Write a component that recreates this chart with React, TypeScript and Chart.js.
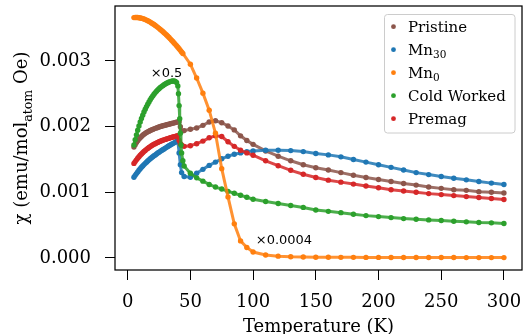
import React, { useEffect, useRef } from 'react';
import { Chart, registerables } from 'chart.js';

Chart.register(...registerables);

// ---------- data: temperature (K) and chi in units of 1e-6 emu/mol_atom Oe, as plotted ----------
const UNIT = 1e-6;

const pristineT = [5, 6, 7, 8, 9, 10, 11, 12, 13, 14, 15, 16, 17, 18, 19, 20, 21, 22, 23, 24, 25, 26, 27, 28, 29, 30, 31, 32, 33, 34, 35, 36, 37, 38, 39, 40, 41, 42, 43, 45, 50, 55, 60, 65, 70, 75, 80, 85, 90, 95, 100, 110, 120, 130, 140, 150, 160, 170, 180, 190, 200, 210, 220, 230, 240, 250, 260, 270, 280, 290, 300];
const pristineChi = [1690, 1725, 1757, 1785, 1810, 1832, 1851, 1868, 1884, 1898, 1910, 1921, 1931, 1941, 1950, 1958, 1966, 1974, 1981, 1988, 1995, 2001, 2007, 2013, 2018, 2023, 2028, 2033, 2038, 2043, 2048, 2053, 2058, 2063, 2068, 2073, 2078, 2000, 1930, 1940, 1960, 1980, 2020, 2070, 2090, 2060, 2010, 1950, 1860, 1790, 1730, 1630, 1550, 1480, 1420, 1375, 1340, 1300, 1260, 1225, 1195, 1165, 1135, 1110, 1080, 1060, 1040, 1030, 1010, 1000, 990];

const mn30T = [5, 6, 7, 8, 9, 10, 11, 12, 13, 14, 15, 16, 17, 18, 19, 20, 21, 22, 23, 24, 25, 26, 27, 28, 29, 30, 31, 32, 33, 34, 35, 36, 37, 38, 39, 40, 41, 42, 43, 45, 50, 55, 60, 65, 70, 75, 80, 85, 90, 95, 100, 110, 120, 130, 140, 150, 160, 170, 180, 190, 200, 210, 220, 230, 240, 250, 260, 270, 280, 290, 300];
const mn30Chi = [1230, 1258, 1285, 1311, 1336, 1359, 1381, 1402, 1422, 1441, 1459, 1477, 1494, 1510, 1526, 1541, 1556, 1570, 1584, 1598, 1611, 1624, 1637, 1649, 1661, 1673, 1685, 1697, 1709, 1720, 1731, 1742, 1753, 1764, 1775, 1785, 1600, 1420, 1300, 1240, 1230, 1290, 1350, 1410, 1460, 1510, 1550, 1580, 1600, 1620, 1630, 1640, 1640, 1635, 1620, 1590, 1570, 1540, 1500, 1460, 1420, 1380, 1340, 1300, 1270, 1240, 1215, 1190, 1165, 1140, 1120];

// Mn0 is drawn scaled by x0.0004
const mn0T = [5, 6, 7, 8, 9, 10, 11, 12, 13, 14, 15, 16, 17, 18, 19, 20, 21, 22, 23, 24, 25, 26, 27, 28, 29, 30, 31, 32, 33, 34, 35, 36, 37, 38, 39, 40, 41, 42, 43, 44, 50, 55, 60, 65, 70, 75, 80, 85, 90, 95, 100, 110, 120, 130, 140, 150, 160, 170, 180, 190, 200, 210, 220, 230, 240, 250, 260, 270, 280, 290, 300];
const mn0Chi = [3660, 3662, 3662, 3661, 3658, 3655, 3650, 3645, 3638, 3630, 3622, 3613, 3603, 3592, 3580, 3568, 3555, 3541, 3527, 3512, 3497, 3481, 3465, 3448, 3431, 3413, 3395, 3376, 3357, 3337, 3317, 3296, 3275, 3253, 3231, 3208, 3185, 3162, 3138, 3114, 2950, 2740, 2510, 2250, 1900, 1360, 930, 520, 260, 160, 90, 45, 28, 18, 14, 12, 11, 10, 10, 9, 9, 8, 8, 8, 7, 7, 7, 6, 6, 6, 6];

// Cold Worked is drawn scaled by x0.5
const coldT = [5, 6, 7, 8, 9, 10, 11, 12, 13, 14, 15, 16, 17, 18, 19, 20, 21, 22, 23, 24, 25, 26, 27, 28, 29, 30, 31, 32, 33, 34, 35, 36, 37, 38, 39, 40, 40.5, 41, 41.5, 42, 42.5, 43, 44, 45, 50, 55, 60, 65, 70, 75, 80, 85, 90, 95, 100, 110, 120, 130, 140, 150, 160, 170, 180, 190, 200, 210, 220, 230, 240, 250, 260, 270, 280, 290, 300];
const coldChi = [1720, 1800, 1875, 1945, 2010, 2070, 2125, 2175, 2222, 2265, 2305, 2342, 2377, 2410, 2440, 2468, 2494, 2518, 2540, 2560, 2578, 2595, 2610, 2624, 2637, 2649, 2660, 2670, 2679, 2686, 2691, 2694, 2694, 2688, 2672, 2620, 2500, 2320, 2120, 1900, 1720, 1600, 1480, 1400, 1290, 1220, 1170, 1120, 1080, 1050, 1015, 985, 955, 925, 895, 860, 830, 800, 770, 730, 710, 690, 665, 645, 630, 615, 600, 590, 580, 570, 560, 550, 540, 535, 525];

const premagT = [5, 6, 7, 8, 9, 10, 11, 12, 13, 14, 15, 16, 17, 18, 19, 20, 21, 22, 23, 24, 25, 26, 27, 28, 29, 30, 31, 32, 33, 34, 35, 36, 37, 38, 39, 40, 41, 42, 43, 45, 50, 55, 60, 65, 70, 75, 80, 85, 90, 95, 100, 110, 120, 130, 140, 150, 160, 170, 180, 190, 200, 210, 220, 230, 240, 250, 260, 270, 280, 290, 300];
const premagChi = [1440, 1468, 1494, 1519, 1542, 1564, 1584, 1603, 1621, 1638, 1654, 1669, 1683, 1696, 1708, 1720, 1731, 1741, 1751, 1760, 1769, 1777, 1785, 1792, 1799, 1806, 1812, 1818, 1824, 1830, 1836, 1842, 1847, 1852, 1857, 1862, 1790, 1740, 1720, 1700, 1710, 1740, 1780, 1830, 1860, 1850, 1770, 1700, 1640, 1600, 1565, 1480, 1405, 1335, 1275, 1225, 1185, 1155, 1125, 1095, 1070, 1040, 1020, 1000, 980, 965, 950, 935, 920, 905, 890];

const xTicks = [0, 50, 100, 150, 200, 250, 300];
const yTicks = [0, 0.001, 0.002, 0.003];

const legendNames = ['Pristine', 'Mn', 'Mn', 'Cold Worked', 'Premag'];
const legendSubs = ['', '30', '0', '', ''];
const colors = ['#8c564b', '#1f77b4', '#ff7f0e', '#2ca02c', '#d62728'];
const lineColors = ['rgba(140,86,75,0.85)', 'rgba(31,119,180,0.85)', 'rgba(255,127,14,0.85)', 'rgba(44,160,44,0.85)', 'rgba(214,39,40,0.85)'];

const noteCold = { text: '×0.5', x: 31, y: 0.00281 };
const noteMn0 = { text: '×0.0004', x: 124.6, y: 0.00026 };

const SERIF = '"DejaVu Serif", serif';

const pts = (T: number[], v: number[]) => T.map((t, i) => ({ x: t, y: v[i] * UNIT }));

const overlay = {
  id: 'overlay',
  afterDatasetsDraw(chart: any) {
    const { ctx, chartArea: a, scales } = chart;
    const xs = scales.x;
    const ys = scales.y;
    ctx.save();
    // frame
    ctx.strokeStyle = '#000';
    ctx.lineWidth = 1.25;
    ctx.strokeRect(a.left, a.top, a.right - a.left, a.bottom - a.top);

    // annotations
    ctx.fillStyle = '#000';
    ctx.font = '13px "DejaVu Sans", sans-serif';
    ctx.textAlign = 'center';
    ctx.textBaseline = 'middle';
    for (const n of [noteCold, noteMn0]) {
      ctx.fillText(n.text, xs.getPixelForValue(n.x), ys.getPixelForValue(n.y));
    }

    // legend
    const lx = 384.5, ly = 14.5, lw = 130.5, lh = 118.5;
    ctx.beginPath();
    ctx.roundRect(lx, ly, lw, lh, 3);
    ctx.fillStyle = 'rgba(255,255,255,0.8)';
    ctx.fill();
    ctx.strokeStyle = '#cccccc';
    ctx.lineWidth = 1;
    ctx.stroke();
    ctx.textAlign = 'left';
    ctx.textBaseline = 'alphabetic';
    for (let i = 0; i < legendNames.length; i++) {
      const cy = 26.7 + i * 23;
      ctx.fillStyle = colors[i];
      ctx.beginPath();
      ctx.arc(393.5, cy, 2.4, 0, Math.PI * 2);
      ctx.fill();
      ctx.fillStyle = '#000';
      ctx.font = '15px ' + SERIF;
      const base = cy + 5.2;
      ctx.fillText(legendNames[i], 408, base);
      if (legendSubs[i]) {
        const w = ctx.measureText(legendNames[i]).width;
        ctx.font = '10.5px ' + SERIF;
        ctx.fillText(legendSubs[i], 408 + w, base + 3.5);
      }
    }

    // y-axis title with subscript
    const parts = [
      { t: 'χ (emu/mol', f: '18px ' + SERIF, dy: 0 },
      { t: 'atom', f: '12.6px ' + SERIF, dy: 4.5 },
      { t: ' Oe)', f: '18px ' + SERIF, dy: 0 },
    ];
    let total = 0;
    const widths = parts.map((p) => {
      ctx.font = p.f;
      const w = ctx.measureText(p.t).width;
      total += w;
      return w;
    });
    ctx.translate(27, (a.top + a.bottom) / 2);
    ctx.rotate(-Math.PI / 2);
    let px = -total / 2;
    ctx.fillStyle = '#000';
    parts.forEach((p, i) => {
      ctx.font = p.f;
      ctx.fillText(p.t, px, p.dy);
      px += widths[i];
    });
    ctx.restore();

    // x-axis title
    ctx.save();
    ctx.fillStyle = '#000';
    ctx.font = '18px ' + SERIF;
    ctx.textAlign = 'center';
    ctx.textBaseline = 'alphabetic';
    ctx.fillText('Temperature (K)', (a.left + a.right) / 2, 331.5);
    ctx.restore();
  },
};

export default function App() {
  const ref = useRef<HTMLCanvasElement>(null);
  useEffect(() => {
    const canvas = ref.current;
    if (!canvas) return;
    const series = [
      { label: 'Pristine', d: pts(pristineT, pristineChi), order: 5 },
      { label: 'Mn30', d: pts(mn30T, mn30Chi), order: 4 },
      { label: 'Mn0', d: pts(mn0T, mn0Chi), order: 0 },
      { label: 'Cold Worked', d: pts(coldT, coldChi), order: 1 },
      { label: 'Premag', d: pts(premagT, premagChi), order: 3 },
    ];
    const chart = new Chart(canvas, {
      type: 'scatter',
      data: {
        datasets: series.map((s, i) => ({
          label: s.label,
          data: s.d,
          showLine: true,
          borderColor: lineColors[i],
          backgroundColor: colors[i],
          borderWidth: 3,
          pointRadius: 2.7,
          pointBorderWidth: 0,
          pointBackgroundColor: colors[i],
          tension: 0,
          order: s.order,
        })),
      },
      options: {
        responsive: false,
        animation: false,
        devicePixelRatio: 1,
        layout: { padding: { left: 0, top: 6, right: 4, bottom: 0 } },
        plugins: { legend: { display: false }, tooltip: { enabled: false } },
        scales: {
          x: {
            type: 'linear',
            min: -10.1,
            max: 314.4,
            afterBuildTicks: (s: any) => {
              s.ticks = xTicks.map((v) => ({ value: v }));
            },
            afterFit: (s: any) => {
              s.height = 64;
              s.paddingLeft = 0;
              s.paddingRight = 0;
              s.paddingTop = 0;
              s.paddingBottom = 0;
            },
            ticks: {
              font: { family: SERIF, size: 18 },
              color: '#000',
              padding: 11.5,
              maxRotation: 0,
              autoSkip: false,
              callback: (v: any) => String(v),
            },
            grid: { drawOnChartArea: false, drawTicks: true, tickLength: 10, color: '#000', lineWidth: 1 },
            border: { display: false },
          },
          y: {
            type: 'linear',
            min: -0.000183,
            max: 0.003837,
            afterBuildTicks: (s: any) => {
              s.ticks = yTicks.map((v) => ({ value: v }));
            },
            afterFit: (s: any) => {
              s.width = 115;
              s.paddingLeft = 0;
              s.paddingRight = 0;
              s.paddingTop = 0;
              s.paddingBottom = 0;
            },
            ticks: {
              font: { family: SERIF, size: 18 },
              color: '#000',
              padding: 14,
              autoSkip: false,
              callback: (v: any) => Number(v).toFixed(3),
            },
            grid: { drawOnChartArea: false, drawTicks: true, tickLength: 10, color: '#000', lineWidth: 1 },
            border: { display: false },
          },
        },
      },
      plugins: [overlay],
    });
    return () => chart.destroy();
  }, []);
  return (
    <div style={{ position: 'fixed', left: 0, top: 0, width: 526, height: 334, background: '#fff' }}>
      <canvas ref={ref} width={526} height={334} style={{ display: 'block', width: 526, height: 334 }} />
    </div>
  );
}
